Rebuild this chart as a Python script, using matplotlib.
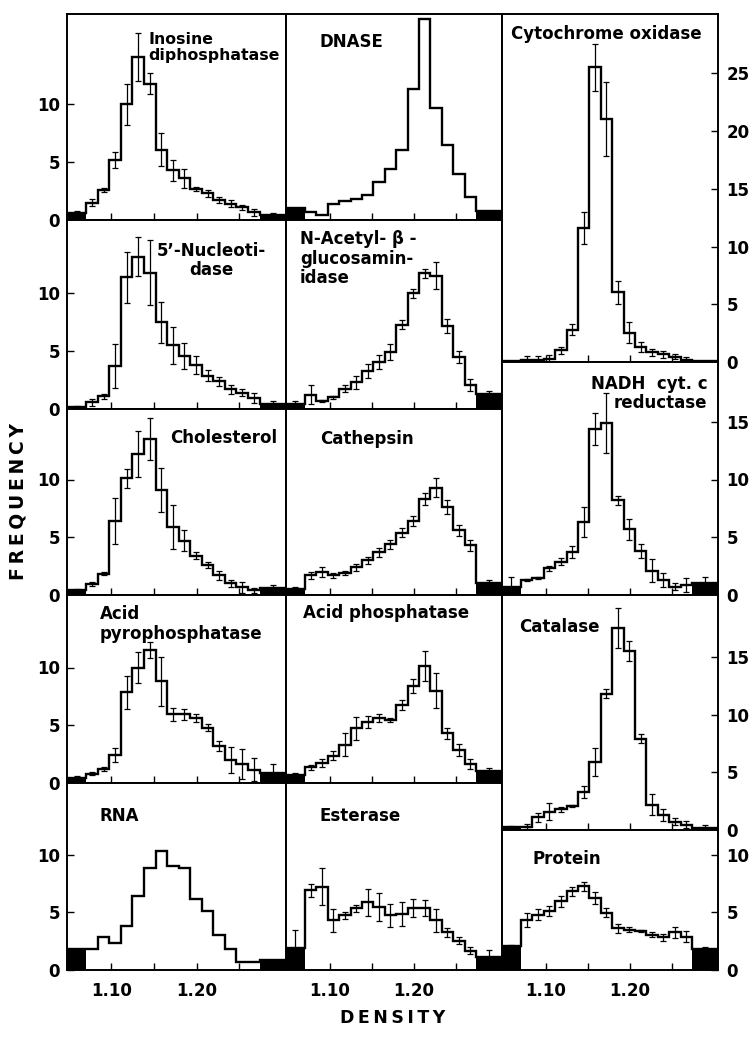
import numpy as np
import matplotlib.pyplot as plt

# Frequency distributions over density classes. Each panel has 15 inner
# classes plus a black end class at each side (lighter / heavier).

dens_lo = 1.0705
dens_hi = 1.274
n_class = 15
x_range = (1.048, 1.305)

# --- left column
inosine_val = [1.5, 2.6, 5.2, 10.0, 14.1, 11.8, 6.1, 4.3, 3.6, 2.7, 2.3, 1.75, 1.4, 1.1, 0.65]
inosine_err = [0.3, 0.15, 0.7, 1.8, 2.1, 0.9, 1.4, 0.9, 0.8, 0.2, 0.3, 0.25, 0.3, 0.2, 0.3]
inosine_end = [0.6, 0.45]
inosine_end_err = [0.2, 0.15]

nucleotidase_val = [0.6, 1.1, 3.7, 11.4, 13.2, 11.8, 7.5, 5.5, 4.6, 3.8, 2.9, 2.4, 1.7, 1.4, 0.95]
nucleotidase_err = [0.3, 0.2, 1.9, 2.2, 1.7, 2.8, 1.8, 1.6, 1.1, 0.8, 0.5, 0.4, 0.4, 0.3, 0.4]
nucleotidase_end = [0.2, 0.45]
nucleotidase_end_err = [0.1, 0.2]

cholesterol_val = [0.95, 1.85, 6.4, 10.1, 12.2, 13.5, 9.1, 5.85, 4.7, 3.4, 2.6, 1.7, 1.0, 0.65, 0.4]
cholesterol_err = [0.15, 0.15, 2.0, 0.8, 2.0, 1.8, 1.9, 1.9, 0.9, 0.3, 0.3, 0.4, 0.3, 0.5, 0.2]
cholesterol_end = [0.4, 0.6]
cholesterol_end_err = [0.1, 0.3]

acidpyro_val = [0.8, 1.2, 2.4, 7.85, 10.0, 11.5, 8.8, 5.95, 5.95, 5.65, 4.8, 3.2, 2.0, 1.65, 1.15]
acidpyro_err = [0.15, 0.2, 0.6, 1.4, 1.3, 0.7, 2.1, 0.55, 0.5, 0.35, 0.3, 0.4, 1.1, 1.3, 1.0]
acidpyro_end = [0.45, 0.85]
acidpyro_end_err = [0.15, 0.8]

rna_val = [1.85, 2.85, 2.3, 3.85, 6.4, 8.8, 10.3, 9.0, 8.85, 6.15, 5.15, 3.0, 1.85, 0.7, 0.7]
rna_end = [1.85, 0.9]

# --- middle column
dnase_val = [0.7, 0.4, 1.35, 1.65, 1.85, 2.2, 3.3, 4.4, 6.1, 11.3, 17.4, 9.7, 6.5, 4.0, 2.0]
dnase_end = [1.05, 0.8]

nacetyl_val = [1.25, 0.7, 1.0, 1.75, 2.3, 3.3, 4.05, 4.9, 7.3, 10.0, 11.75, 11.55, 7.2, 4.5, 2.1]
nacetyl_err = [0.8, 0.1, 0.15, 0.3, 0.55, 0.6, 0.6, 0.7, 0.4, 0.4, 0.4, 1.2, 0.6, 0.5, 0.5]
nacetyl_end = [0.45, 1.3]
nacetyl_end_err = [0.25, 0.3]

cathepsin_val = [1.7, 2.0, 1.7, 1.9, 2.4, 3.0, 3.7, 4.4, 5.4, 6.4, 8.3, 9.3, 7.6, 5.6, 4.3]
cathepsin_err = [0.3, 0.4, 0.2, 0.2, 0.3, 0.3, 0.4, 0.4, 0.4, 0.4, 0.5, 0.8, 0.6, 0.5, 0.5]
cathepsin_end = [0.5, 1.0]
cathepsin_end_err = [0.2, 0.3]

acidphos_val = [1.35, 1.75, 2.35, 3.3, 4.75, 5.3, 5.6, 5.45, 6.75, 8.4, 10.1, 8.0, 4.3, 2.85, 1.65]
acidphos_err = [0.2, 0.35, 0.4, 1.0, 1.0, 0.5, 0.35, 0.2, 0.4, 0.6, 1.3, 1.5, 0.5, 0.5, 0.4]
acidphos_end = [0.7, 1.0]
acidphos_end_err = [0.2, 0.3]

esterase_val = [6.9, 7.2, 4.3, 4.75, 5.35, 5.85, 5.45, 4.75, 4.85, 5.35, 5.35, 4.3, 3.25, 2.55, 1.65]
esterase_err = [0.55, 1.6, 1.0, 0.3, 0.3, 1.2, 1.2, 1.0, 1.0, 0.8, 0.7, 1.0, 0.4, 0.3, 0.3]
esterase_end = [1.9, 1.1]
esterase_end_err = [1.6, 0.6]

# --- right column
cytox_val = [0.2, 0.2, 0.3, 1.0, 2.8, 11.6, 25.5, 21.0, 6.05, 2.55, 1.3, 0.85, 0.65, 0.45, 0.2]
cytox_err = [0.3, 0.3, 0.3, 0.3, 0.45, 1.4, 2.0, 3.2, 1.0, 0.9, 0.4, 0.3, 0.3, 0.2, 0.2]
cytox_end = [0.05, 0.05]
cytox_end_err = [0.0, 0.0]

nadh_val = [1.3, 1.5, 2.3, 2.9, 3.7, 6.3, 14.4, 14.9, 8.2, 5.7, 3.8, 2.1, 1.3, 0.7, 0.85]
nadh_err = [0.1, 0.1, 0.2, 0.3, 0.5, 1.3, 1.4, 2.6, 0.4, 0.9, 0.6, 1.0, 0.6, 0.3, 0.6]
nadh_end = [0.7, 1.0]
nadh_end_err = [0.9, 0.6]

catalase_val = [0.3, 1.1, 1.6, 1.8, 2.1, 3.3, 5.9, 11.8, 17.5, 15.5, 7.9, 2.2, 1.3, 0.7, 0.45]
catalase_err = [0.2, 0.4, 0.7, 0.2, 0.1, 0.5, 1.2, 0.4, 1.7, 0.9, 0.4, 0.9, 0.5, 0.3, 0.3]
catalase_end = [0.25, 0.2]
catalase_end_err = [0.1, 0.2]

protein_val = [4.35, 4.8, 5.1, 5.95, 6.8, 7.25, 6.25, 4.95, 3.6, 3.5, 3.4, 3.05, 2.85, 3.25, 2.9]
protein_err = [0.6, 0.5, 0.4, 0.5, 0.4, 0.4, 0.5, 0.4, 0.4, 0.2, 0.1, 0.2, 0.3, 0.5, 0.5]
protein_end = [2.1, 1.8]
protein_end_err = [0.1, 0.15]


W, H = 752, 1038
px_per_unit = 11.55

plt.rcParams['font.family'] = ['DejaVu Sans']
plt.rcParams['font.weight'] = 'bold'

fig = plt.figure(figsize=(W / 100, H / 100), dpi=100)

edges = np.linspace(dens_lo, dens_hi, n_class + 1)
centers = (edges[:-1] + edges[1:]) / 2
end_x = [(x_range[0] + dens_lo) / 2, (dens_hi + x_range[1]) / 2]
end_w = [dens_lo - x_range[0], x_range[1] - dens_hi]
all_edges = np.concatenate([[x_range[0]], edges, [x_range[1]]])


def panel(x0, x1, y0, y1, val, end, err=None, end_err=None, side='none',
          yticks=(), bottom=False):
    ax = fig.add_axes([x0 / W, 1 - y1 / H, (x1 - x0) / W, (y1 - y0) / H])
    ax.set_xlim(*x_range)
    ax.set_ylim(0, (y1 - y0) / px_per_unit)

    ax.bar(end_x, end, width=end_w, color='black', zorder=2)
    ax.stairs(np.concatenate([[end[0]], val, [end[1]]]), all_edges,
              baseline=None, color='black', lw=1.7, zorder=3)
    if err is not None:
        ax.errorbar(centers, val, yerr=err, fmt='none', ecolor='black',
                    elinewidth=0.9, capsize=2.2, capthick=0.9, zorder=4)
        ax.errorbar(end_x, end, yerr=end_err, fmt='none', ecolor='black',
                    elinewidth=0.9, capsize=2.2, capthick=0.9, zorder=4)

    for s in ax.spines.values():
        s.set_linewidth(1.4)

    ax.set_xticks([1.10, 1.15, 1.20, 1.25])
    if bottom:
        ax.set_xticklabels(['1.10', '', '1.20', ''])
    else:
        ax.set_xticklabels([])
    ax.tick_params(axis='x', direction='in', length=5, width=1, pad=9, labelsize=12)

    ax.set_yticks(list(yticks))
    if side == 'right':
        ax.yaxis.tick_right()
        ax.tick_params(axis='y', direction='in', length=5, width=1, pad=6, labelsize=12)
    elif side == 'left':
        ax.tick_params(axis='y', direction='in', length=5, width=1, pad=5, labelsize=12)
    else:
        ax.set_yticks([])
    return ax


def label(ax, x, y, text, ha='left', size=12):
    ax.text(x, y, text, transform=ax.transAxes, ha=ha, va='top', fontsize=size,
            fontweight='bold', multialignment=ha, linespacing=1.1, zorder=5)


rows = [14, 220, 409, 595, 783, 970]
lc = (67, 286)
mc = (286, 502)
rc = (502, 718)

ax = panel(*lc, rows[0], rows[1], inosine_val, inosine_end, inosine_err, inosine_end_err, 'left', [0, 5, 10])
label(ax, 0.37, 0.915, 'Inosine\ndiphosphatase', size=11.3)
ax = panel(*lc, rows[1], rows[2], nucleotidase_val, nucleotidase_end, nucleotidase_err, nucleotidase_end_err, 'left', [0, 5, 10])
label(ax, 0.66, 0.885, "5\u2019-Nucleoti-\ndase", ha='center')
ax = panel(*lc, rows[2], rows[3], cholesterol_val, cholesterol_end, cholesterol_err, cholesterol_end_err, 'left', [0, 5, 10])
label(ax, 0.47, 0.89, 'Cholesterol')
ax = panel(*lc, rows[3], rows[4], acidpyro_val, acidpyro_end, acidpyro_err, acidpyro_end_err, 'left', [0, 5, 10])
label(ax, 0.15, 0.945, 'Acid\npyrophosphatase')
ax = panel(*lc, rows[4], rows[5], rna_val, rna_end, side='left', yticks=[0, 5, 10], bottom=True)
label(ax, 0.15, 0.87, 'RNA')

ax = panel(*mc, rows[0], rows[1], dnase_val, dnase_end)
label(ax, 0.153, 0.91, 'DNASE')
ax = panel(*mc, rows[1], rows[2], nacetyl_val, nacetyl_end, nacetyl_err, nacetyl_end_err)
label(ax, 0.065, 0.945, 'N-Acetyl- \u03b2 -\nglucosamin-\nidase')
ax = panel(*mc, rows[2], rows[3], cathepsin_val, cathepsin_end, cathepsin_err, cathepsin_end_err)
label(ax, 0.157, 0.887, 'Cathepsin')
ax = panel(*mc, rows[3], rows[4], acidphos_val, acidphos_end, acidphos_err, acidphos_end_err)
label(ax, 0.08, 0.95, 'Acid phosphatase')
ax = panel(*mc, rows[4], rows[5], esterase_val, esterase_end, esterase_err, esterase_end_err, bottom=True)
label(ax, 0.153, 0.87, 'Esterase')

ax = panel(*rc, 14, 362, cytox_val, cytox_end, cytox_err, cytox_end_err, 'right', [0, 5, 10, 15, 20, 25])
label(ax, 0.04, 0.968, 'Cytochrome oxidase')
ax = panel(*rc, 362, 595, nadh_val, nadh_end, nadh_err, nadh_end_err, 'right', [0, 5, 10, 15])
label(ax, 0.95, 0.944, 'NADH  cyt. c\nreductase', ha='right')
ax = panel(*rc, 595, 830, catalase_val, catalase_end, catalase_err, catalase_end_err, 'right', [0, 5, 10, 15])
label(ax, 0.08, 0.9, 'Catalase')
ax = panel(*rc, 830, 970, protein_val, protein_end, protein_err, protein_end_err, 'right', [0, 5, 10], bottom=True)
label(ax, 0.139, 0.855, 'Protein')

ts = '\u2009'
fig.text(18 / W, 1 - 502 / H, ts.join('FREQUENCY'), rotation=90, ha='center', va='center',
         fontsize=13.5, fontweight='bold')
fig.text(393 / W, 1 - 1018 / H, ts.join('DENSITY'), ha='center', va='center',
         fontsize=12.5, fontweight='bold')

fig.savefig('out.png', dpi=100)
